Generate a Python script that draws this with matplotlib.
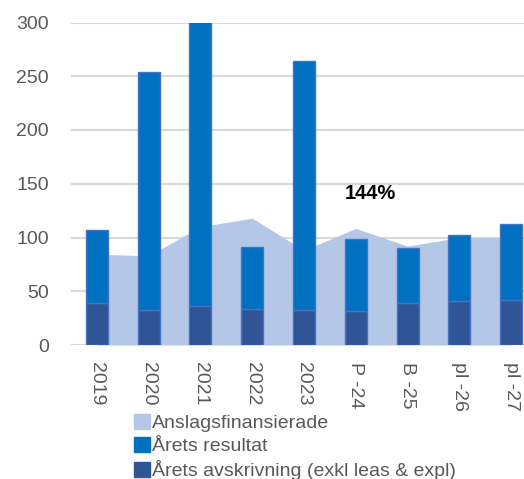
import numpy as np
import matplotlib
matplotlib.use("Agg")
import matplotlib.pyplot as plt
from matplotlib.patches import Patch

plt.rcParams['font.family'] = ['Liberation Sans', 'DejaVu Sans']

# data
categories = ["2019", "2020", "2021", "2022", "2023", "P -24", "B -25", "pl -26", "pl -27"]
anslagsfinansierade = [84.5, 83, 110, 118, 88, 108.5, 92, 100, 100]
avskrivning = [39, 33, 36, 33.5, 33, 32, 39.5, 41, 42]
resultat = [68, 221, 274, 58, 231, 67, 51, 61, 71]

c_area = "#B4C7E7"
c_res = "#0070C0"
c_avs = "#2F5597"
c_edge = "#4472C4"

fig = plt.figure(figsize=(5.24, 4.79), dpi=100)
W, H = 524, 479
# axes spans past the right edge, like the cropped original
ax = fig.add_axes([71 / W, (H - 345) / H, 466 / W, 322.5 / H])

x = np.arange(len(categories))

ax.fill_between(x, 0, anslagsfinansierade, color=c_area, lw=0, zorder=2)
ax.bar(x, avskrivning, width=0.425, color=c_avs, edgecolor=c_edge, lw=1, zorder=3)
ax.bar(x, resultat, width=0.425, bottom=avskrivning, color=c_res,
       edgecolor=c_edge, lw=1, zorder=3)

ax.set_xlim(-0.5, 8.5)
ax.set_ylim(0, 300)
ax.set_yticks(range(0, 301, 50))
ax.yaxis.grid(True, color="#D9D9D9", lw=1.5, zorder=0)
ax.set_axisbelow(True)
for s in ax.spines.values():
    s.set_visible(False)

ax.set_xticks(x)
ax.set_xticklabels(categories, rotation=270, va="top", ha="center")
ax.tick_params(axis="both", length=0, labelsize=14, labelcolor="#595959")
ax.tick_params(axis="y", pad=16)
ax.tick_params(axis="x", pad=12)

ax.text(5.29, 140.5, "144%", fontsize=14.5, fontweight="bold", color="black",
        ha="center", va="center", zorder=5)

handles = [Patch(color=c_area), Patch(color=c_res), Patch(color=c_avs)]
labels = ["Anslagsfinansierade", "Årets resultat", "Årets avskrivning (exkl leas & expl)"]
fig.legend(handles, labels, loc="upper left", bbox_to_anchor=(134 / W, (H - 414) / H),
           frameon=False, fontsize=14, handlelength=0.8, handleheight=0.8,
           handletextpad=0.1, labelspacing=0.25, borderpad=0, borderaxespad=0,
           labelcolor="#595959")

fig.savefig("out.png", dpi=100)
